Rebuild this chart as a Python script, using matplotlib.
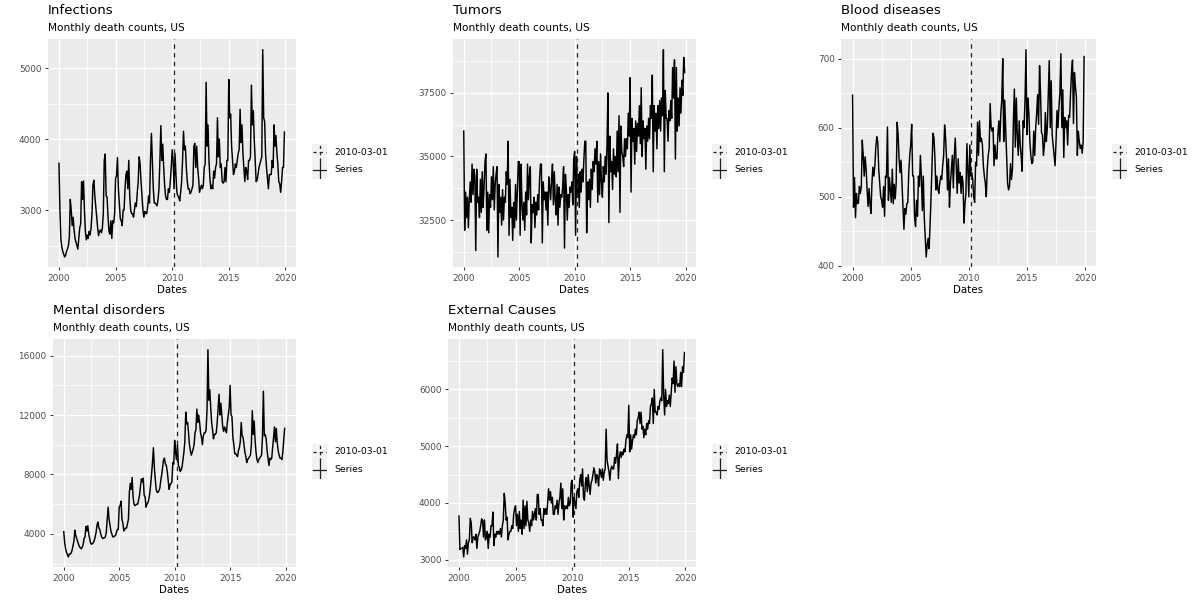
import numpy as np
import matplotlib
matplotlib.use('Agg')
import matplotlib.pyplot as plt
from matplotlib.ticker import MultipleLocator

years = list(range(2000, 2020))
vline_label = '2010-03-01'
subtitle = 'Monthly death counts, US'

# monthly values, one row per year (Jan..Dec)
infections = [
    [3660, 3000, 2600, 2480, 2420, 2380, 2340, 2360, 2420, 2450, 2500, 2620],
    [3150, 3000, 2780, 2900, 2720, 2600, 2550, 2500, 2450, 2600, 2750, 2800],
    [3400, 3150, 3410, 3000, 2700, 2580, 2650, 2600, 2700, 2650, 2750, 2950],
    [3350, 3420, 3200, 3050, 2900, 2750, 2640, 2700, 2720, 2680, 2750, 2950],
    [3700, 3790, 3200, 3180, 2900, 2700, 2660, 2850, 2600, 2850, 2820, 2950],
    [3450, 3480, 3740, 3300, 3100, 2880, 2850, 2780, 3000, 3000, 3300, 3500],
    [3550, 3300, 3700, 3200, 3000, 2950, 2950, 2900, 3000, 3100, 3050, 3250],
    [3400, 3750, 3650, 3400, 3200, 3000, 2900, 2980, 2950, 2950, 3050, 3200],
    [3100, 3700, 4080, 3700, 3300, 3100, 3100, 3080, 3060, 3150, 3300, 3700],
    [4190, 3700, 3930, 3600, 3350, 3200, 3150, 3150, 3300, 3250, 3400, 3600],
    [3850, 3700, 3300, 3800, 3500, 3250, 3200, 3180, 3130, 3250, 3400, 3700],
    [4110, 3850, 3900, 3600, 3400, 3300, 3300, 3230, 3250, 3300, 3350, 3900],
    [3940, 3600, 3900, 3600, 3450, 3250, 3300, 3350, 3300, 3350, 3600, 3650],
    [4800, 3900, 4200, 3700, 3450, 3300, 3350, 3300, 3550, 3450, 3600, 3650],
    [4300, 3750, 4000, 3600, 3650, 3400, 3380, 3400, 3600, 3400, 3700, 3700],
    [4840, 4300, 4350, 3900, 3700, 3500, 3550, 3650, 3600, 3700, 3800, 3850],
    [4420, 3950, 4200, 3800, 3600, 3400, 3600, 3550, 3430, 3700, 3700, 3750],
    [4760, 4200, 4400, 4000, 3700, 3400, 3420, 3500, 3600, 3650, 3700, 3750],
    [5260, 4300, 4250, 3800, 3600, 3450, 3300, 3500, 3500, 3500, 3700, 3600],
    [4200, 3900, 4050, 3800, 3650, 3400, 3370, 3250, 3400, 3600, 3600, 4100],
]

tumors = [
    [36000, 32100, 33600, 32600, 33400, 32200, 33300, 34000, 33200, 34700, 33500, 34500],
    [34200, 31300, 34500, 33200, 33400, 32600, 34100, 32800, 34400, 33000, 33800, 34800],
    [35100, 32100, 33600, 32000, 33500, 33000, 34200, 33300, 34600, 32900, 33900, 34300],
    [34600, 31050, 33900, 32800, 33400, 32300, 33700, 32500, 33400, 33200, 34400, 33900],
    [35600, 31900, 34100, 32600, 33000, 31700, 33200, 32200, 33900, 32500, 33600, 34800],
    [34800, 31900, 34700, 33100, 32500, 33200, 32100, 33600, 32700, 34700, 33300, 34200],
    [34600, 31600, 33100, 32800, 33400, 32200, 33200, 32700, 33500, 32900, 34100, 34700],
    [34700, 31600, 34000, 33300, 33600, 32900, 33600, 32300, 34200, 33800, 33300, 34100],
    [34700, 33100, 34400, 33300, 32700, 33900, 32300, 33800, 33000, 33500, 33400, 33800],
    [34600, 31400, 34300, 33700, 32500, 33500, 33000, 33800, 33600, 34000, 33100, 34900],
    [35200, 31900, 35000, 33400, 34300, 33000, 34400, 33600, 34500, 34000, 34900, 35600],
    [35600, 32000, 34000, 33300, 34100, 33000, 34500, 33700, 34800, 34400, 35300, 34700],
    [35600, 33200, 34800, 33500, 35100, 34000, 33400, 34600, 34000, 35000, 34300, 35500],
    [37500, 32400, 35800, 34400, 34800, 33700, 35300, 34300, 35000, 34200, 36000, 34400],
    [36600, 32800, 36200, 35200, 35000, 34600, 35700, 35000, 35700, 35300, 36700, 35800],
    [38100, 33600, 36500, 35600, 36100, 34700, 36400, 35200, 36300, 35800, 37000, 35500],
    [37700, 35000, 36400, 35700, 36100, 34500, 36200, 35600, 36500, 35700, 37000, 36500],
    [38200, 34400, 37000, 36000, 36700, 35300, 37000, 36100, 37200, 36000, 37300, 36600],
    [39200, 34400, 37600, 36500, 36500, 35600, 36800, 36400, 37200, 36500, 38500, 37300],
    [38800, 34900, 38500, 36000, 37300, 36200, 37700, 36700, 38000, 37400, 38900, 38300],
]

blood = [
    [647, 485, 528, 470, 505, 490, 491, 515, 505, 515, 582, 560],
    [530, 558, 540, 510, 486, 512, 490, 476, 520, 543, 530, 545],
    [572, 587, 580, 540, 520, 500, 495, 485, 515, 472, 530, 528],
    [601, 495, 528, 510, 492, 540, 490, 518, 497, 520, 608, 590],
    [555, 535, 553, 520, 490, 453, 483, 475, 490, 492, 535, 560],
    [575, 605, 530, 530, 470, 457, 495, 472, 530, 515, 560, 530],
    [480, 530, 470, 440, 413, 430, 440, 425, 460, 500, 545, 592],
    [585, 555, 510, 530, 512, 505, 520, 530, 525, 545, 560, 604],
    [585, 555, 510, 555, 485, 520, 540, 560, 513, 560, 585, 545],
    [505, 555, 520, 535, 505, 530, 520, 462, 490, 505, 577, 540],
    [500, 575, 530, 535, 525, 500, 492, 550, 545, 608, 560, 610],
    [580, 585, 575, 545, 530, 520, 500, 540, 560, 570, 635, 600],
    [595, 600, 545, 575, 555, 555, 590, 610, 580, 620, 640, 700],
    [580, 640, 600, 560, 520, 510, 515, 548, 525, 540, 610, 656],
    [572, 643, 590, 560, 610, 575, 560, 537, 610, 600, 640, 713],
    [590, 643, 620, 580, 560, 548, 550, 595, 560, 600, 620, 648],
    [605, 690, 650, 593, 590, 560, 575, 622, 580, 600, 650, 697],
    [600, 668, 590, 575, 560, 545, 580, 625, 600, 630, 650, 707],
    [600, 655, 557, 615, 600, 610, 575, 618, 615, 650, 680, 698],
    [606, 680, 660, 645, 560, 595, 580, 570, 575, 563, 580, 703],
]

mental = [
    [4150, 3400, 3000, 2750, 2600, 2450, 2650, 2650, 2700, 2900, 3200, 3500],
    [4250, 3900, 3700, 3500, 3300, 3150, 3050, 3000, 3100, 3300, 3700, 3800],
    [4500, 4200, 4550, 4000, 3700, 3400, 3300, 3350, 3400, 3550, 3800, 4100],
    [4600, 4800, 4400, 4300, 4000, 3800, 3700, 3700, 3750, 3800, 4100, 5000],
    [5800, 5000, 4600, 4200, 4000, 3800, 3800, 3850, 3900, 4100, 4300, 4300],
    [5800, 5900, 6200, 5000, 4700, 4200, 4300, 4400, 4400, 4700, 5000, 6800],
    [7400, 7000, 7800, 6500, 6000, 5900, 5950, 6000, 6000, 6300, 6600, 7200],
    [7700, 7500, 7750, 6600, 6500, 5800, 6000, 6100, 6300, 6700, 7300, 8000],
    [8800, 9800, 8500, 7700, 7000, 6800, 6800, 6900, 7100, 7600, 8000, 8500],
    [9000, 9100, 8700, 8600, 8200, 7600, 7000, 7300, 7400, 7500, 8800, 8700],
    [10300, 9500, 9000, 10000, 8600, 8500, 8200, 8300, 8500, 9000, 9500, 10200],
    [12200, 11400, 11500, 10800, 10000, 9600, 9300, 9500, 9700, 10000, 10800, 11000],
    [12400, 11500, 12000, 11500, 10800, 10500, 10000, 10600, 10800, 10800, 11000, 12300],
    [16400, 13000, 13700, 12500, 11500, 11000, 10400, 10700, 10700, 10800, 11500, 12500],
    [13400, 12000, 12800, 12000, 11200, 10900, 11200, 11000, 10800, 11500, 12000, 12500],
    [14000, 12000, 11900, 10500, 10000, 9400, 9400, 9300, 9200, 9600, 9800, 10200],
    [11500, 10600, 10500, 10000, 9500, 9200, 8800, 9000, 9100, 9200, 9300, 10000],
    [12300, 10700, 11600, 10300, 9500, 9000, 8800, 9000, 9100, 9200, 9300, 10500],
    [13600, 10600, 10700, 10400, 9600, 9100, 8600, 9100, 9000, 9100, 9800, 10500],
    [11200, 10200, 11100, 10100, 9600, 9300, 9100, 9100, 9000, 9500, 10300, 11100],
]

external = [
    [3770, 3180, 3200, 3200, 3220, 3050, 3250, 3200, 3350, 3100, 3300, 3350],
    [3730, 3650, 3300, 3400, 3400, 3350, 3450, 3200, 3400, 3450, 3500, 3600],
    [3720, 3700, 3400, 3700, 3350, 3400, 3500, 3200, 3450, 3400, 3600, 3600],
    [3840, 3250, 3450, 3400, 3500, 3450, 3500, 3450, 3550, 3400, 3600, 3700],
    [4170, 4000, 3700, 3750, 3350, 3450, 3500, 3500, 3600, 3550, 3800, 3900],
    [3950, 3600, 3800, 3500, 3850, 3550, 3700, 3450, 4050, 3550, 3950, 3600],
    [4030, 3700, 3650, 3500, 3700, 3600, 3850, 3700, 3800, 3900, 3700, 4150],
    [4150, 3800, 3900, 3700, 3700, 3600, 3900, 3800, 3900, 3800, 4000, 4250],
    [4050, 4200, 4000, 4100, 3800, 3800, 3950, 3900, 4050, 3800, 4000, 4100],
    [4350, 3900, 4250, 3700, 3950, 3900, 3950, 3900, 4100, 3950, 4000, 4350],
    [4400, 3750, 4100, 4000, 3900, 4200, 4250, 4100, 4400, 4500, 4300, 4600],
    [4100, 4050, 4350, 4450, 4200, 4500, 4300, 4150, 4350, 4400, 4500, 4620],
    [4550, 4350, 4500, 4450, 4300, 4600, 4550, 4450, 4600, 4400, 4550, 4600],
    [5300, 4750, 4650, 4550, 4400, 4600, 4650, 4600, 4600, 4800, 4700, 4850],
    [5040, 4430, 4800, 4900, 4800, 4900, 4850, 4950, 4900, 5100, 5200, 5150],
    [5720, 4900, 5200, 4950, 5100, 5200, 5150, 5300, 5200, 5450, 5500, 5600],
    [5400, 5600, 5300, 5350, 5150, 5300, 5200, 5400, 5300, 5450, 5400, 5700],
    [5750, 5850, 5400, 6000, 5600, 5600, 5550, 5700, 5650, 5800, 5850, 5800],
    [6700, 5900, 5550, 6000, 5700, 5800, 5750, 5900, 5700, 5950, 6200, 6100],
    [6500, 5950, 6400, 6100, 6050, 6100, 6050, 6300, 6050, 6400, 6300, 6650],
]

W, H = 1200, 600
fig = plt.figure(figsize=(12, 6), dpi=100)

# decimal year of each month
t = np.array([y + m / 12 for y in years for m in range(12)])
t_vline = 2010 + 2 / 12


def panel(box, cell, title, vals, ystep):
    # box = (left, top, right, bottom) in pixels, cell = (x0, y0) of the cell
    l, tp, r, b = box
    ax = fig.add_axes([l / W, 1 - b / H, (r - l) / W, (b - tp) / H])
    ax.set_facecolor('#EBEBEB')
    ax.plot(t, np.ravel(vals), color='black', lw=1.05, zorder=3)
    ax.axvline(t_vline, color='#222222', lw=0.9, ls=(0, (3.5, 3.5)), zorder=4)
    ax.margins(x=0.05, y=0.05)
    ax.xaxis.set_major_locator(MultipleLocator(5))
    ax.xaxis.set_minor_locator(MultipleLocator(2.5))
    ax.yaxis.set_major_locator(MultipleLocator(ystep))
    ax.yaxis.set_minor_locator(MultipleLocator(ystep / 2))
    ax.grid(which='major', color='white', lw=1.0)
    ax.grid(which='minor', color='white', lw=0.5)
    ax.set_axisbelow(True)
    for s in ax.spines.values():
        s.set_visible(False)
    ax.tick_params(which='major', length=2.2, width=0.7, color='#333333',
                   labelsize=6.4, labelcolor='#4D4D4D', pad=2.3)
    ax.tick_params(which='minor', length=0)
    ax.set_xlabel('Dates', fontsize=7.4, labelpad=1.5)

    cx, cy = cell
    fig.text(l / W, 1 - (cy + 10) / H, title, fontsize=9.6, va='center', ha='left')
    fig.text(l / W, 1 - (cy + 28) / H, subtitle, fontsize=7.6, va='center', ha='left')

    # legend keys
    lk = fig.add_axes([(cx + 312) / W, 1 - (cy + 178.5) / H, 15 / W, 35 / H])
    lk.set_facecolor('#F2F2F2')
    lk.set_xlim(0, 1)
    lk.set_ylim(0, 1)
    lk.set_xticks([])
    lk.set_yticks([])
    for s in lk.spines.values():
        s.set_visible(False)
    dash = (0, (2.5, 2.5))
    lk.plot([0.05, 0.95], [0.75, 0.75], color='#222222', lw=0.9, ls=dash)
    lk.plot([0.5, 0.5], [0.5, 1.0], color='#222222', lw=0.9, ls=dash)
    lk.plot([0.05, 0.95], [0.25, 0.25], color='#222222', lw=0.9)
    lk.plot([0.5, 0.5], [0.0, 0.5], color='#222222', lw=0.9)
    fig.text((cx + 334) / W, 1 - (cy + 152) / H, vline_label, fontsize=6.7, va='center')
    fig.text((cx + 334) / W, 1 - (cy + 170) / H, 'Series', fontsize=6.7, va='center')
    return ax


panel((47.7, 39.3, 295.7, 267.3), (0, 0), 'Infections', infections, 1000)
panel((452.7, 39.3, 695.7, 267.3), (400, 0), 'Tumors', tumors, 2500)
panel((841, 39.3, 1095.7, 267.3), (800, 0), 'Blood diseases', blood, 100)
panel((52.7, 339.3, 295.7, 567.3), (0, 300), 'Mental disorders', mental, 4000)
panel((447.7, 339.3, 695.7, 567.3), (400, 300), 'External Causes', external, 1000)

fig.savefig('out.png', dpi=100)
